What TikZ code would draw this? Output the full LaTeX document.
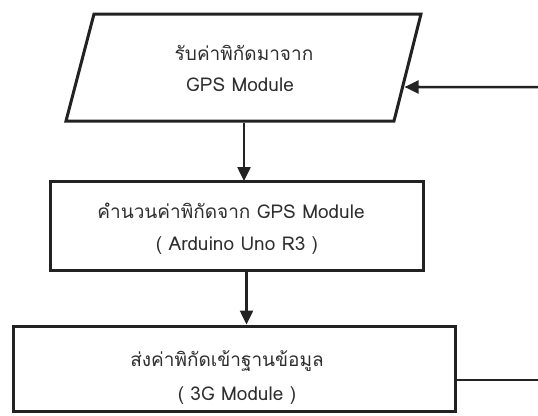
\documentclass[tikz,border=0pt]{standalone}
\usepackage{fontspec}
\setmainfont[Script=Thai]{Loma}
\usetikzlibrary{arrows.meta,calc}

\definecolor{ink}{HTML}{222222}
\definecolor{txt}{HTML}{2E2E2E}

\begin{document}
\begin{tikzpicture}[x=1pt,y=1pt,
  boxline/.style={draw=ink,line width=3pt,line join=miter,fill=white},
  procbox/.style={boxline,rectangle,inner sep=0pt},
  flow/.style={draw=ink,line width=2.5pt,-{Triangle[length=14pt,width=13pt]}},
  link/.style={draw=ink,line width=2.5pt},
  txtline/.style={anchor=base,inner sep=0pt,text=txt,font=\fontsize{19}{24}\selectfont}]
  % page frame, y measured downward from the top edge
  \useasboundingbox (0,0) rectangle (538,-415);
  \fill[white] (0,0) rectangle (538,-415);

  % input: coordinates read from the GPS module (parallelogram)
  \coordinate (ptl) at (94,-14);
  \coordinate (ptr) at (421,-14);
  \coordinate (pbr) at (394,-121);
  \coordinate (pbl) at (66,-121);
  \draw[boxline] (ptl) -- (ptr) -- (pbr) -- (pbl) -- cycle;
  \node[inner sep=0pt,minimum width=300pt,minimum height=107pt] (p) at (244,-67.5) {};
  \node[txtline] (pa) at (244,-60) {รับค่าพิกัดมาจาก};
  \node[txtline] (pb) at (240,-91) {GPS Module};

  % processing on the Arduino
  \node[procbox,minimum width=373pt,minimum height=89pt] (b2) at (236.5,-225.5) {};
  \node[txtline] (qa) at (231,-218) {คำนวนค่าพิกัดจาก GPS Module};
  \node[txtline] (qb) at (237,-250) {( Arduino Uno R3 )};

  % upload over 3G
  \node[procbox,minimum width=442pt,minimum height=85pt] (b3) at (234,-368.5) {};
  \node[txtline] (ra) at (227,-366) {ส่งค่าพิกัดเข้าฐานข้อมูล};
  \node[txtline] (rb) at (237,-400) {( 3G Module )};

  % connectors
  \draw[flow] ([yshift=-1.5pt]p.south) -- ([yshift=-1.5pt]p.south |- b2.north);
  \draw[flow] ([xshift=10pt]b2.south) -- ([xshift=10pt]b2.south |- b3.north);

  % loop back to the input
  \coordinate (fbin) at (538,-87);
  \coordinate (fbmid) at (300,-87);
  \coordinate (fbout) at (538,-380);
  \draw[flow] (fbin) -- ([xshift=2pt]intersection of fbin--fbmid and pbr--ptr);
  \draw[link] (b3.east |- fbout) -- (fbout);
\end{tikzpicture}
\end{document}
